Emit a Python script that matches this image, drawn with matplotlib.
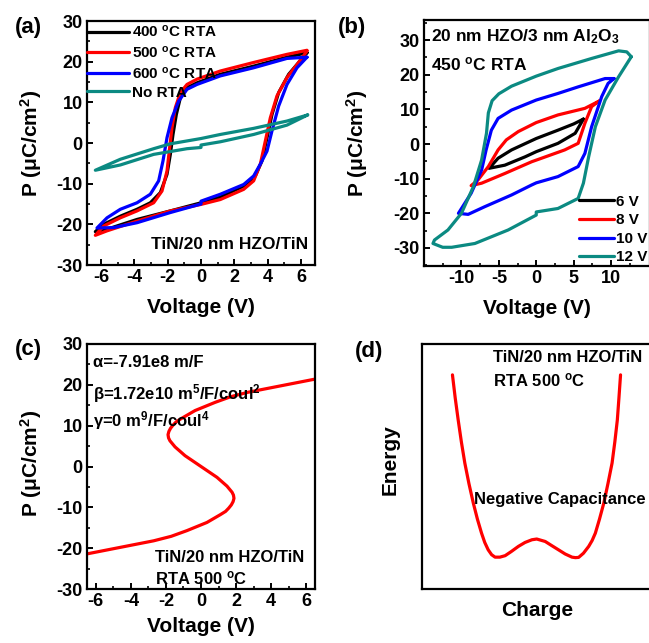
import matplotlib
matplotlib.use("Agg")
import matplotlib.pyplot as plt
from matplotlib.ticker import MultipleLocator, FixedLocator

plt.rcParams['font.family'] = ['Liberation Sans', 'DejaVu Sans']
plt.rcParams['font.weight'] = 'bold'
plt.rcParams['axes.unicode_minus'] = False
plt.rcParams['mathtext.fontset'] = 'custom'
plt.rcParams['mathtext.rm'] = 'Liberation Sans:bold'
plt.rcParams['mathtext.it'] = 'Liberation Sans:bold'
plt.rcParams['mathtext.bf'] = 'Liberation Sans:bold'
plt.rcParams['mathtext.default'] = 'rm'
plt.rcParams['lines.solid_joinstyle'] = 'round'
plt.rcParams['lines.solid_capstyle'] = 'round'

# ---------------- Data ----------------
# (a) P-V loops, TiN/20 nm HZO/TiN; upper branch (V decreasing) then lower branch (V increasing)
a_black_V = [6.36, 5.16, 3.16, 1.16, -0.24, -0.84, -1.24, -1.48, -1.68, -1.84, -2.04, -2.44, -3.04, -3.84, -4.84,
             -5.84, -6.34, -5.64, -3.84, -1.84, 0.0, 1.16, 2.56, 3.26, 3.66, 3.96, 4.26, 4.66, 5.26, 5.86, 6.36]
a_black_P = [22.2, 21.1, 18.9, 16.9, 14.8, 13.6, 11.1, 7.0, 2.1, -2.8, -7.7, -12.2, -14.7, -16.3, -18.0,
             -20.0, -21.8, -21.2, -18.8, -16.7, -14.7, -13.3, -10.6, -8.1, -4.4, 1.3, 7.0, 12.4, 16.9, 19.8, 22.2]
a_red_V = [6.36, 5.16, 3.16, 1.16, -0.24, -0.84, -1.24, -1.54, -1.74, -1.88, -2.04, -2.34, -2.84, -3.84, -4.84,
           -5.84, -6.34, -5.64, -3.84, -1.84, 0.0, 1.16, 2.56, 3.16, 3.56, 3.86, 4.16, 4.56, 5.16, 5.76, 6.36]
a_red_P = [22.8, 21.8, 19.8, 17.7, 15.7, 14.4, 12.4, 8.7, 3.8, -1.1, -6.9, -11.8, -14.7, -16.7, -18.4,
           -20.4, -22.7, -21.6, -19.2, -16.7, -15.1, -13.9, -11.4, -9.3, -5.2, 0.5, 6.2, 11.6, 16.1, 19.3, 22.6]
a_blue_V = [6.36, 5.16, 3.16, 1.16, -0.24, -0.84, -1.34, -1.74, -2.04, -2.28, -2.54, -3.04, -3.84, -4.84, -5.64,
            -6.24, -5.24, -3.84, -1.84, 0.0, 0.0, 1.16, 2.56, 3.16, 3.56, 3.96, 4.26, 4.66, 5.16, 5.76, 6.36]
a_blue_P = [21.1, 20.8, 18.5, 16.5, 14.4, 13.2, 10.3, 6.2, 1.3, -4.4, -9.3, -12.6, -14.7, -16.3, -18.4,
            -20.9, -20.8, -19.6, -17.1, -15.0, -14.3, -12.6, -10.2, -8.1, -5.2, -2.0, 3.0, 9.1, 14.4, 18.5, 21.1]
a_teal_V = [6.4, 5.16, 3.16, 1.16, 0.0, -1.84, -2.84, -4.84, -6.34,
            -4.84, -2.84, -0.84, 0.0, 0.0, 1.16, 3.16, 5.16, 6.4]
a_teal_P = [6.9, 5.4, 3.6, 2.1, 1.1, -0.2, -1.4, -4.0, -6.7,
            -5.4, -2.8, -1.4, -1.1, -0.5, 0.3, 2.1, 4.4, 6.9]
a_labels = ['400 $^{o}$C RTA', '500 $^{o}$C RTA', '600 $^{o}$C RTA', 'No RTA']

# (b) P-V loops, 20 nm HZO/3 nm Al2O3, 450 C RTA
b_6_V = [6.3, 5.0, 2.9, 0.0, -3.3, -5.1, -6.3, -4.2, -1.5, 0.0, 2.9, 5.2, 6.3]
b_6_P = [7.2, 5.8, 4.0, 1.6, -1.7, -4.1, -7.0, -6.1, -3.7, -2.2, 0.2, 3.1, 7.2]
b_8_V = [8.4, 6.5, 2.9, 0.0, -2.4, -4.0, -5.1, -6.4, -7.8, -8.7, -7.3, -4.2, -0.6, 0.7, 3.8, 5.6, 6.5, 7.4, 8.4]
b_8_P = [12.4, 10.3, 8.4, 6.2, 3.6, 1.2, -1.7, -6.5, -10.4, -12.0, -11.3, -8.5, -5.1, -4.1, -1.7, 0.2, 6.0, 10.8, 12.4]
b_10_V = [10.4, 9.2, 5.6, 2.9, 0.0, -3.3, -5.1, -6.0, -6.7, -7.3, -8.7, -10.4,
          -9.1, -6.9, -3.3, -0.6, 0.0, 2.9, 5.6, 6.5, 7.4, 8.75, 9.6, 10.4]
b_10_P = [18.9, 18.9, 16.5, 14.6, 12.7, 9.8, 7.4, 4.0, -1.7, -7.5, -14.2, -20.0,
          -20.3, -18.1, -14.7, -11.8, -11.2, -9.4, -6.5, -2.7, 5.0, 13.7, 17.5, 18.9]
b_12_V = [12.7, 12.1, 11.0, 7.4, 2.9, 0.0, -3.3, -5.0, -5.9, -6.4, -6.65, -7.3, -8.4, -10.0, -11.8, -13.6, -13.8,
          -12.5, -11.3, -8.2, -3.75, 0.0, 0.0, 2.9, 5.6, 6.3, 7.0, 7.9, 9.2, 11.0, 12.7]
b_12_P = [25.2, 26.6, 26.9, 24.7, 21.8, 19.6, 16.7, 14.5, 12.5, 9.0, 3.1, -4.6, -12.3, -20.0, -24.8, -27.7, -28.7,
          -29.8, -29.8, -28.7, -24.8, -20.5, -19.6, -18.6, -15.7, -11.3, -3.7, 5.0, 12.7, 19.4, 25.2]
b_labels = ['6 V', '8 V', '10 V', '12 V']

# (c) Landau S-curve
c_V = [-6.5, -4.6, -2.7, -1.7, -0.8, 0.34, 1.1, 1.4, 1.58, 1.73, 1.83, 1.88, 1.85, 1.77, 1.48, 0.91, 0.0,
       -0.91, -1.48, -1.77, -1.85, -1.88, -1.83, -1.73, -1.58, -1.4, -1.1, -0.34, 0.8, 1.7, 2.7, 4.6, 6.5]
c_P = [-21.4, -19.8, -18.2, -17.1, -15.7, -13.7, -11.8, -11.0, -10.2, -9.4, -8.6, -7.8, -7.0, -6.3, -4.8, -2.65, 0.0,
       2.65, 4.8, 6.3, 7.0, 7.8, 8.6, 9.4, 10.2, 11.0, 11.8, 13.7, 15.7, 17.1, 18.2, 19.8, 21.4]

# (d) Energy vs charge (arbitrary units)
d_Q = [13.3, 14.5, 15.8, 17.2, 18.7, 20.5, 22.4, 24.2, 26.0, 27.4, 28.9, 30.4, 31.9, 34.0, 36.3, 39.0, 42.1, 45.0,
       48.0, 50.1, 53.8, 56.5, 59.6, 62.5, 65.5, 67.0, 68.4, 70.5, 72.8, 74.3, 75.7, 77.5, 79.4, 81.2, 83.0, 84.2,
       85.3, 86.0, 86.7]
d_E = [87.4, 78.0, 69.0, 60.0, 51.4, 43.0, 35.1, 28.5, 22.8, 19.0, 16.0, 14.0, 13.0, 13.0, 13.6, 15.3, 17.4, 19.0,
       20.1, 20.4, 19.4, 17.8, 16.0, 14.3, 13.0, 12.8, 12.9, 14.6, 17.4, 19.8, 22.8, 28.5, 35.1, 43.0, 51.4, 60.0,
       69.0, 78.0, 87.4]

TEAL = '#0b8a82'
W, H = 649, 643
fig = plt.figure(figsize=(W / 100, H / 100), dpi=100)


def rect(l, r, t, b):
    return [l / W, 1 - b / H, (r - l) / W, (b - t) / H]


def style(ax):
    for s in ax.spines.values():
        s.set_linewidth(1.6)
    ax.tick_params(which='major', direction='in', length=4.5, width=1.4, labelsize=13, pad=3)
    ax.tick_params(which='minor', direction='in', length=2.5, width=1.2)
    for lab in ax.get_xticklabels() + ax.get_yticklabels():
        lab.set_fontweight('bold')


LW = 2.3
ylab = 'P ($\\mu$C/cm$^{2}$)'

# ---- (a)
ax = fig.add_axes(rect(87, 315, 21, 265))
ax.plot(a_black_V, a_black_P, color='black', lw=LW, label=a_labels[0])
ax.plot(a_red_V, a_red_P, color='red', lw=LW, label=a_labels[1])
ax.plot(a_blue_V, a_blue_P, color='blue', lw=LW, label=a_labels[2])
ax.plot(a_teal_V, a_teal_P, color=TEAL, lw=LW, label=a_labels[3])
ax.set_xlim(-6.84, 6.84)
ax.set_ylim(-30, 30)
ax.xaxis.set_major_locator(MultipleLocator(2))
ax.xaxis.set_minor_locator(MultipleLocator(1))
ax.yaxis.set_major_locator(MultipleLocator(10))
ax.yaxis.set_minor_locator(MultipleLocator(5))
style(ax)
ax.legend(loc='upper left', frameon=False, fontsize=11, handlelength=2.7, handletextpad=0.25,
          borderaxespad=0.0, borderpad=0.2, labelspacing=0.3, bbox_to_anchor=(-0.012, 1.0))
ax.text(0.97, 0.055, 'TiN/20 nm HZO/TiN', transform=ax.transAxes, ha='right', va='bottom',
        fontsize=12.5, fontweight='bold')
ax.set_xlabel('Voltage (V)', fontsize=15, fontweight='bold')
ax.set_ylabel(ylab, fontsize=15, fontweight='bold')
ax.xaxis.set_label_coords(0.5, -0.135)
ax.yaxis.set_label_coords(-0.19, 0.5)

# ---- (b)
ax = fig.add_axes(rect(424, 650, 20, 266))
ax.plot(b_6_V, b_6_P, color='black', lw=LW, label=b_labels[0])
ax.plot(b_8_V, b_8_P, color='red', lw=LW, label=b_labels[1])
ax.plot(b_10_V, b_10_P, color='blue', lw=LW, label=b_labels[2])
ax.plot(b_12_V, b_12_P, color=TEAL, lw=LW, label=b_labels[3])
ax.set_xlim(-15, 15.2)
ax.set_ylim(-35.2, 35.8)
ax.xaxis.set_major_locator(FixedLocator([-10, -5, 0, 5, 10]))
ax.xaxis.set_minor_locator(FixedLocator([-12.5, -7.5, -2.5, 2.5, 7.5, 12.5]))
ax.yaxis.set_major_locator(MultipleLocator(10))
ax.yaxis.set_minor_locator(MultipleLocator(5))
style(ax)
ax.legend(loc='lower right', frameon=False, fontsize=11, handlelength=2.3, handletextpad=0.15,
          borderaxespad=0.0, borderpad=0.1, labelspacing=0.3, bbox_to_anchor=(0.995, 0.0))
ax.text(0.03, 0.97, '20 nm HZO/3 nm Al$_2$O$_3$', transform=ax.transAxes, ha='left', va='top',
        fontsize=12.5, fontweight='bold')
ax.text(0.03, 0.855, '450 $^{o}$C RTA', transform=ax.transAxes, ha='left', va='top',
        fontsize=12.5, fontweight='bold')
ax.set_xlabel('Voltage (V)', fontsize=15, fontweight='bold')
ax.set_ylabel(ylab, fontsize=15, fontweight='bold')
ax.xaxis.set_label_coords(0.5, -0.135)
ax.yaxis.set_label_coords(-0.238, 0.5)

# ---- (c)
ax = fig.add_axes(rect(87, 315, 344, 589))
ax.plot(c_V, c_P, color='red', lw=LW)
ax.set_xlim(-6.5, 6.5)
ax.set_ylim(-30, 30)
ax.xaxis.set_major_locator(MultipleLocator(2))
ax.xaxis.set_minor_locator(MultipleLocator(1))
ax.yaxis.set_major_locator(MultipleLocator(10))
ax.yaxis.set_minor_locator(MultipleLocator(5))
style(ax)
for txt, yy in [('α=-7.91e8 m/F', 0.955),
                ('β=1.72e10 m$^{5}$/F/coul$^{2}$', 0.845),
                ('γ=0 m$^{9}$/F/coul$^{4}$', 0.735)]:
    ax.text(0.025, yy, txt, transform=ax.transAxes, ha='left', va='top', fontsize=12, fontweight='bold')
ax.text(0.3, 0.13, 'TiN/20 nm HZO/TiN', transform=ax.transAxes, ha='left', va='center',
        fontsize=12, fontweight='bold')
ax.text(0.3, 0.045, 'RTA 500 $^{o}$C', transform=ax.transAxes, ha='left', va='center',
        fontsize=12, fontweight='bold')
ax.set_xlabel('Voltage (V)', fontsize=15, fontweight='bold')
ax.set_ylabel(ylab, fontsize=15, fontweight='bold')
ax.xaxis.set_label_coords(0.5, -0.115)
ax.yaxis.set_label_coords(-0.19, 0.514)

# ---- (d)
ax = fig.add_axes(rect(422, 651, 344, 589))
ax.plot(d_Q, d_E, color='red', lw=LW)
ax.set_xlim(0, 100)
ax.set_ylim(0, 100)
ax.set_xticks([])
ax.set_yticks([])
for s in ax.spines.values():
    s.set_linewidth(1.6)
ax.text(0.31, 0.945, 'TiN/20 nm HZO/TiN', transform=ax.transAxes, ha='left', va='center',
        fontsize=12, fontweight='bold')
ax.text(0.31, 0.85, 'RTA 500 $^{o}$C', transform=ax.transAxes, ha='left', va='center',
        fontsize=12, fontweight='bold')
ax.text(0.225, 0.365, 'Negative Capacitance', transform=ax.transAxes, ha='left', va='center',
        fontsize=12, fontweight='bold')
ax.set_xlabel('Charge', fontsize=15, fontweight='bold')
ax.set_ylabel('Energy', fontsize=15, fontweight='bold')
ax.xaxis.set_label_coords(0.502, -0.05)
ax.yaxis.set_label_coords(-0.096, 0.527)

# panel labels
for lab, (px, py) in zip(['(a)', '(b)', '(c)', '(d)'], [(28, 27), (352, 27), (28, 350), (369, 351)]):
    fig.text(px / W, 1 - py / H, lab, ha='center', va='center', fontsize=16, fontweight='bold')

fig.savefig('out.png', dpi=100)
